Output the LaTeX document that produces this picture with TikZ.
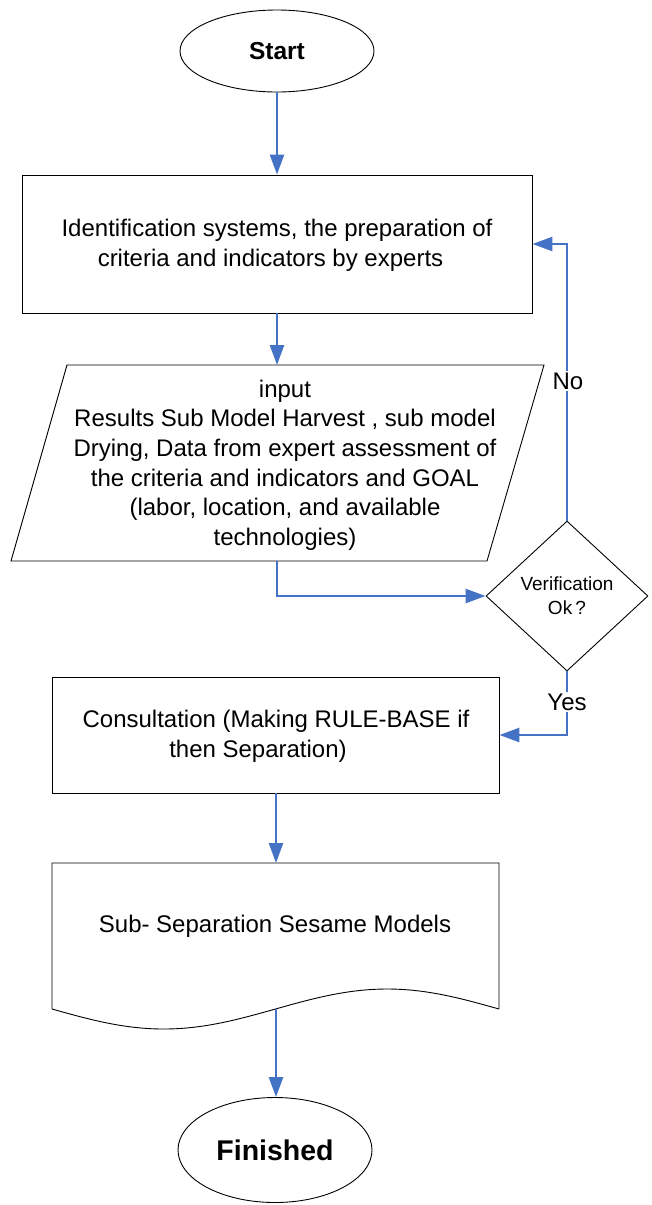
\documentclass[tikz,border=0pt]{standalone}
\usepackage{fontspec}
\setmainfont{Liberation Sans}
\usetikzlibrary{shapes.geometric,arrows.meta}
\definecolor{flowblue}{HTML}{4472C4}
\begin{document}
\begin{tikzpicture}[x=1pt,y=-1pt,
  box/.style={draw=black,line width=0.9pt,inner sep=0pt},
  txt/.style={font=\fontsize{24}{29.6}\selectfont,align=center,inner sep=0pt},
  arr/.style={draw=flowblue,line width=2.6pt,-{Triangle[length=20pt,width=14pt]}},
  lbl/.style={font=\fontsize{24}{28}\selectfont,fill=white,inner sep=2pt}]
\useasboundingbox (0,0) rectangle (651,1205);
\fill[white] (0,0) rectangle (651,1205);
% Start
\node[box,ellipse,minimum width=194pt,minimum height=82pt,font=\fontsize{24.5}{28}\selectfont\bfseries] (start) at (277,51) {Start};
% identification box
\node[box,rectangle,minimum width=510pt,minimum height=138pt] (r1) at (277,244) {};
\node[txt] (r1t) at (277,245) {Identification systems, the preparation of\\criteria and indicators by experts\hspace*{13pt}};
% input parallelogram
\draw[line width=0.9pt] (67,365) -- (544,365) -- (487,561) -- (11,561) -- cycle;
\coordinate (inpN) at (277,365);
\coordinate (inpS) at (277,561);
\node[txt] (inp) at (285,465) {input\\Results Sub Model Harvest , sub model\\Drying, Data from expert assessment of\\the criteria and indicators and GOAL\\(labor, location, and available\\technologies)};
% verification diamond
\node[box,diamond,minimum width=162pt,minimum height=150pt,aspect=1.08,font=\fontsize{19}{24}\selectfont,align=center] (ver) at (567,596) {Verification\\Ok\,?};
% consultation
\node[box,rectangle,minimum width=447pt,minimum height=116pt] (r2) at (275.5,735) {};
\node[txt] (r2t) at (276,736) {Consultation (Making RULE-BASE if\\then Separation)\hspace*{36pt}};
% document
\draw[line width=0.9pt] (499,1009) -- (499,863) -- (52,863) -- (52,1009)
  plot[domain=0:447,samples=80,smooth] ({52+\x},{1009+20*sin(0.80537*\x)});
\coordinate (docN) at (276,863);
\coordinate (docS) at (276,1009);
\node[txt] (doc) at (275,926) {Sub- Separation Sesame Models};
% Finished
\node[box,ellipse,minimum width=194pt,minimum height=105pt,font=\fontsize{28.5}{32}\selectfont\bfseries] (fin) at (275,1150) {Finished};
% connectors
\draw[arr] (start.south) -- (r1.north -| start.south);
\draw[arr] (r1.south -| inpN) -- (inpN);
\draw[arr] (inpS) |- (ver.west);
\draw[arr] (ver.north) |- (r1.east);
\draw[arr] (ver.south) |- (r2.east);
\draw[arr] (r2.south -| docN) -- (docN);
\draw[arr] (docS) -- (fin.north -| docS);
% labels
\node[lbl] (no) at (568,381) {No};
\node[lbl] (yes) at (567,702) {Yes};
\end{tikzpicture}
\end{document}
